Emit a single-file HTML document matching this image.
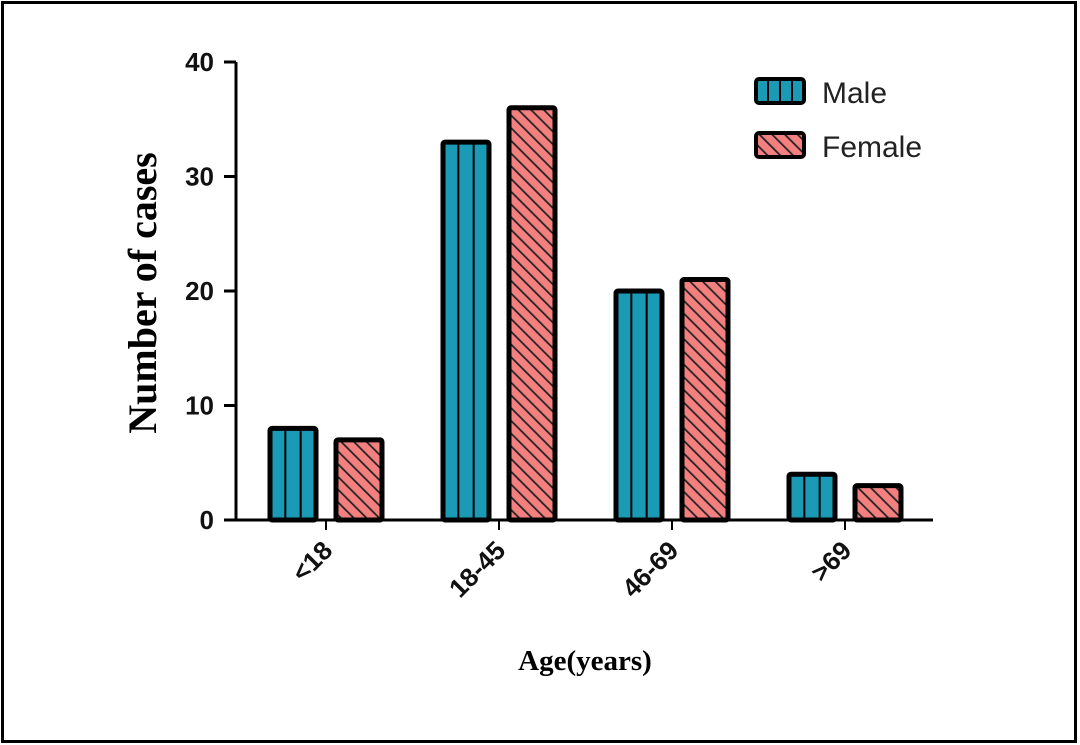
<!DOCTYPE html>
<html><head><meta charset="utf-8"><style>
html,body{margin:0;padding:0;background:#fff;}
svg{display:block;}
</style></head><body>
<svg width="1080" height="745" viewBox="0 0 1080 745">
<defs>
<pattern id="hatch" patternUnits="userSpaceOnUse" width="9" height="9" patternTransform="rotate(-45)">
<rect width="9" height="9" fill="#f37f7f"/>
<line x1="0" y1="0" x2="0" y2="9" stroke="#222" stroke-width="3.5"/>
</pattern>
</defs>
<rect x="2.5" y="2.5" width="1073" height="739" fill="#fff" stroke="#000" stroke-width="3"/>
<g id="plot"></g>
<text x="0" y="0" transform="translate(156,293) rotate(-90)" text-anchor="middle" font-family="Liberation Serif, serif" font-weight="bold" font-size="40">Number of cases</text>
<text x="585" y="670" text-anchor="middle" font-family="Liberation Serif, serif" font-weight="bold" font-size="29">Age(years)</text>
<g>
<g>
<rect x="756" y="79" width="48" height="24" rx="3" fill="#1a9ab5" stroke="#000" stroke-width="4"/>
<line x1="768" y1="80" x2="768" y2="102" stroke="#000" stroke-width="2"/>
<line x1="780" y1="80" x2="780" y2="102" stroke="#000" stroke-width="2"/>
<line x1="792" y1="80" x2="792" y2="102" stroke="#000" stroke-width="2"/>
<text x="822" y="103" font-family="Liberation Sans, sans-serif" font-size="30" fill="#222">Male</text>
</g>
<g>
<rect x="756" y="133" width="48" height="24" rx="3" fill="url(#hatch)" stroke="#000" stroke-width="4"/>
<text x="822" y="157" font-family="Liberation Sans, sans-serif" font-size="30" fill="#222">Female</text>
</g>
</g>
</svg>
<script>
const categories = ["<18","18-45","46-69",">69"];
const maleValues = [8,33,20,4];
const femaleValues = [7,36,21,3];
const yTicks = [0,10,20,30,40];

const NS = "http://www.w3.org/2000/svg";
const g = document.getElementById('plot');
const x0 = 236, xEnd = 933, yBase = 520, yTop = 62, yMax = 40;
const y = v => yBase - (yBase - yTop) * v / yMax;
const groupX = i => 326 + i * 173;
const barW = 46;
function mk(tag, attrs){const e=document.createElementNS(NS,tag);for(const k in attrs)e.setAttribute(k,attrs[k]);g.appendChild(e);return e;}

categories.forEach((c,i)=>{
  const cx = groupX(i);
  const mx = cx - 10 - barW, my = y(maleValues[i]);
  const mb = mk('rect',{x:mx,y:my,width:barW,height:yBase-my,fill:'#1a9ab5',stroke:'#000','stroke-width':5,rx:2});
  
  
  [1,2].forEach(k=>{
    const l = mk('line',{x1:mx+barW*k/3,x2:mx+barW*k/3,y1:my,y2:yBase,stroke:'#000','stroke-width':2});
    
    
  });
  const fx = cx + 10, fy = y(femaleValues[i]);
  const fb = mk('rect',{x:fx,y:fy,width:barW,height:yBase-fy,fill:'url(#hatch)',stroke:'#000','stroke-width':5,rx:2});
  
  
  const t = mk('line',{x1:cx,x2:cx,y1:yBase,y2:yBase+10,stroke:'#000','stroke-width':2});
  
  
  const tx = mk('text',{x:0,y:0,transform:`translate(${cx+8},${yBase+32}) rotate(-45)`,'text-anchor':'end','font-family':'Liberation Sans, sans-serif','font-size':26,'font-weight':'bold',fill:'#111'});
  tx.textContent = c;
  
  
});

yTicks.forEach(v=>{
  const t = mk('line',{x1:x0-12,x2:x0,y1:y(v),y2:y(v),stroke:'#000','stroke-width':3});
  
  
  const tx = mk('text',{x:x0-22,y:y(v)+9,'text-anchor':'end','font-family':'Liberation Sans, sans-serif','font-size':26,'font-weight':'bold',fill:'#111'});
  tx.textContent = v;
  
  
});
const ya = mk('line',{x1:x0,x2:x0,y1:yTop,y2:yBase+1.5,stroke:'#000','stroke-width':3});


const xa = mk('line',{x1:x0-1.5,x2:xEnd,y1:yBase,y2:yBase,stroke:'#000','stroke-width':3});


</script>
</body></html>
